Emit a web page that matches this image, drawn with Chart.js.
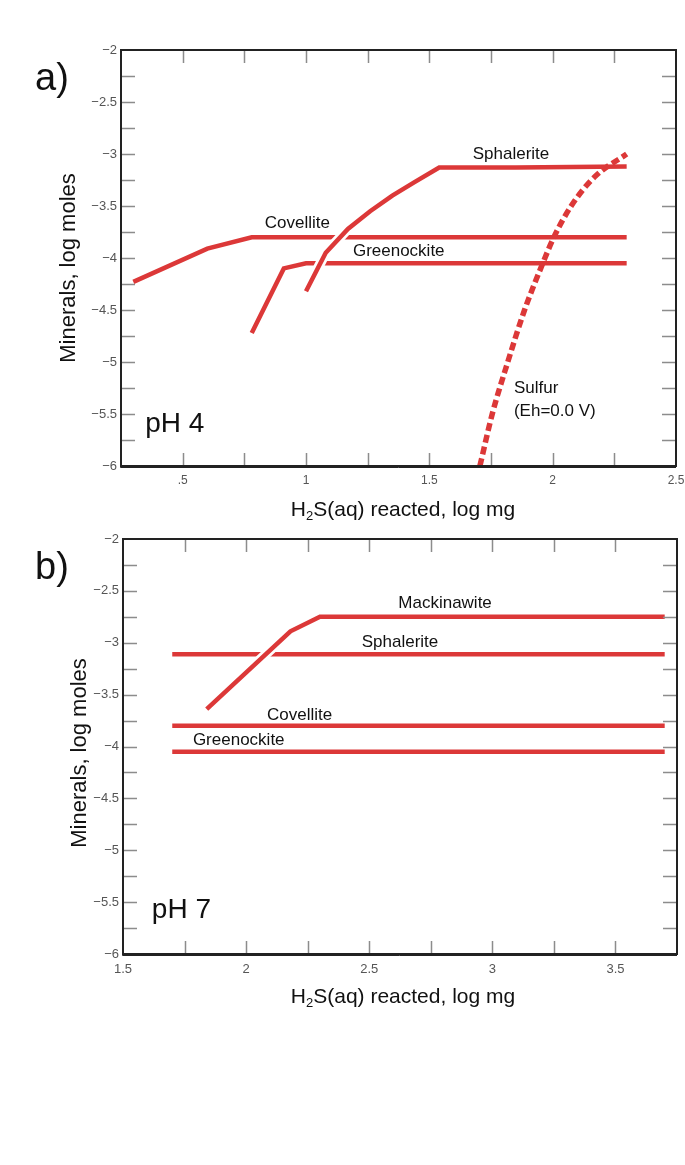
<!DOCTYPE html>
<html>
<head>
<meta charset="utf-8">
<script src="https://cdn.jsdelivr.net/npm/chart.js@4.4.0/dist/chart.umd.min.js"></script>
<style>
  body { margin: 0; background: #fff; }
  #wrap { position: relative; width: 685px; height: 1165px; background: #fff; }
  canvas { position: absolute; left: 0; }
</style>
</head>
<body>
<div id="wrap">
  <canvas id="chartA" width="685" height="530" style="top:0"></canvas>
  <canvas id="chartB" width="685" height="520" style="top:530px"></canvas>
</div>
<script>
// ---- panel a) pH 4 ----
const covelliteA_x   = [0.30, 0.60, 0.78, 2.30];
const covelliteA_y   = [-4.23, -3.91, -3.80, -3.80];
const greenockiteA_x = [0.78, 0.91, 1.00, 2.30];
const greenockiteA_y = [-4.72, -4.10, -4.05, -4.05];
const sphaleriteA_x  = [1.00, 1.08, 1.17, 1.26, 1.35, 1.44, 1.54, 1.85, 2.30];
const sphaleriteA_y  = [-4.32, -3.95, -3.72, -3.55, -3.40, -3.27, -3.13, -3.13, -3.12];
const sulfurA_x      = [1.705, 1.755, 1.818, 1.886, 1.96, 2.005, 2.075, 2.17, 2.30];
const sulfurA_y      = [-6.00, -5.50, -5.00, -4.50, -4.05, -3.80, -3.50, -3.22, -3.00];

// ---- panel b) pH 7 ----
const mackinawiteB_x = [1.84, 2.18, 2.30, 3.70];
const mackinawiteB_y = [-3.64, -2.89, -2.75, -2.75];
const sphaleriteB_x  = [1.70, 3.70];
const sphaleriteB_y  = [-3.11, -3.11];
const covelliteB_x   = [1.70, 3.70];
const covelliteB_y   = [-3.80, -3.80];
const greenockiteB_x = [1.70, 3.70];
const greenockiteB_y = [-4.05, -4.05];

// axis ranges / tick steps
const xRangeA = [0.25, 2.5];
const xRangeB = [1.5, 3.75];
const yRange  = [-6, -2];
const tickStep = 0.25;

const RED = '#dc3838';
Chart.defaults.font.family = '"Liberation Sans", Arial, sans-serif';

function pts(xs, ys) {
  return xs.map((v, i) => ({ x: v, y: ys[i] }));
}

function series(xs, ys, extra) {
  return Object.assign({
    data: pts(xs, ys),
    borderColor: RED,
    borderWidth: 4.5,
    borderCapStyle: 'butt',
    pointRadius: 0,
    fill: false,
    order: 3
  }, extra || {});
}

function isHalf(v) {
  return Math.abs(v * 2 - Math.round(v * 2)) < 1e-9;
}

function yLabel(v) {
  return isHalf(v) ? String(v).replace('-', '\u2212') : '';
}

// draws inward ticks, frame, curve labels, axis titles
const decor = {
  id: 'decor',
  afterDraw(chart, args, o) {
    const { ctx, chartArea: a } = chart;
    const x = chart.scales.x, y = chart.scales.y;
    ctx.save();

    ctx.strokeStyle = '#8c8c8c';
    ctx.lineWidth = 1.5;
    ctx.beginPath();
    x.ticks.forEach(t => {
      if (t.value <= x.min || t.value >= x.max) return;
      const px = Math.round(x.getPixelForValue(t.value)) + 0.5;
      ctx.moveTo(px, a.bottom); ctx.lineTo(px, a.bottom - 13);
      ctx.moveTo(px, a.top); ctx.lineTo(px, a.top + 13);
    });
    y.ticks.forEach(t => {
      if (t.value <= y.min || t.value >= y.max) return;
      const py = Math.round(y.getPixelForValue(t.value)) + 0.5;
      ctx.moveTo(a.left, py); ctx.lineTo(a.left + 14, py);
      ctx.moveTo(a.right, py); ctx.lineTo(a.right - 14, py);
    });
    ctx.stroke();

    // frame
    ctx.strokeStyle = '#222';
    ctx.lineWidth = 2;
    ctx.strokeRect(a.left, a.top, a.right - a.left, a.bottom - a.top);
    ctx.lineWidth = 1;
    ctx.beginPath();
    ctx.moveTo(a.left - 0.5, a.top); ctx.lineTo(a.left - 0.5, a.bottom + 1.5);
    ctx.lineTo(a.right, a.bottom + 1.5);
    ctx.stroke();

    // curve labels
    ctx.fillStyle = '#111';
    ctx.textBaseline = 'middle';
    o.labels.forEach(l => {
      ctx.font = (l.size || 17) + 'px "Liberation Sans", Arial, sans-serif';
      ctx.textAlign = l.align || 'center';
      ctx.fillText(l.text, x.getPixelForValue(l.x), y.getPixelForValue(l.y));
    });

    // panel letter
    ctx.font = '38px "Liberation Sans", Arial, sans-serif';
    ctx.textAlign = 'left';
    ctx.fillText(o.letter, 35, o.letterY);

    // x title with subscript
    const big = '21px "Liberation Sans", Arial, sans-serif';
    const small = '13px "Liberation Sans", Arial, sans-serif';
    ctx.font = big;
    const w1 = ctx.measureText('H').width;
    const w3 = ctx.measureText('S(aq) reacted, log mg').width;
    ctx.font = small;
    const w2 = ctx.measureText('2').width;
    const sx = o.xTitleX - (w1 + w2 + w3) / 2;
    ctx.font = big;
    ctx.fillText('H', sx, o.xTitleY);
    ctx.font = small;
    ctx.fillText('2', sx + w1, o.xTitleY + 6);
    ctx.font = big;
    ctx.fillText('S(aq) reacted, log mg', sx + w1 + w2, o.xTitleY);

    // y title
    ctx.translate(o.yTitleX, o.yTitleY);
    ctx.rotate(-Math.PI / 2);
    ctx.textAlign = 'center';
    ctx.font = '22px "Liberation Sans", Arial, sans-serif';
    ctx.fillText('Minerals, log moles', 0, 0);

    ctx.restore();
  }
};

function makeOptions(xRange, xLabel, xFont, xPad, padTop, padRight, axisHeight, decorOpts) {
  return {
    responsive: false,
    animation: false,
    events: [],
    layout: { padding: { left: 0, top: padTop, right: padRight, bottom: 0 } },
    plugins: { legend: { display: false }, tooltip: { enabled: false }, decor: decorOpts },
    scales: {
      x: {
        type: 'linear', min: xRange[0], max: xRange[1],
        grid: { display: false, drawTicks: false },
        border: { display: false },
        ticks: { stepSize: tickStep, autoSkip: false, maxRotation: 0, padding: xPad,
                 color: '#555', font: { size: xFont }, callback: xLabel },
        afterFit(s) { s.height = axisHeight; s.paddingLeft = 0; s.paddingRight = 0; }
      },
      y: {
        type: 'linear', min: yRange[0], max: yRange[1],
        grid: { display: false, drawTicks: false },
        border: { display: false },
        ticks: { stepSize: tickStep, autoSkip: false, padding: 4,
                 color: '#555', font: { size: 13 }, callback: yLabel },
        afterFit(s) { s.width = decorOpts.left; s.paddingTop = 0; s.paddingBottom = 0; }
      }
    }
  };
}

new Chart(document.getElementById('chartA'), {
  type: 'line',
  data: {
    datasets: [
      series(sulfurA_x, sulfurA_y, { borderDash: [8, 4], borderWidth: 5.5, order: 0,
                                     cubicInterpolationMode: 'monotone' }),
      series(sphaleriteA_x, sphaleriteA_y, { order: 1 }),
      series(sphaleriteA_x, sphaleriteA_y, { borderColor: '#fff', borderWidth: 10, order: 2 }),
      series(covelliteA_x, covelliteA_y),
      series(greenockiteA_x, greenockiteA_y)
    ]
  },
  options: makeOptions(xRangeA,
    v => isHalf(v) ? (v === 0.5 ? '.5' : String(v)) : '',
    12, 7, 50, 9, 64,
    {
      left: 121, letter: 'a)', letterY: 80,
      xTitleX: 403, xTitleY: 510, yTitleX: 69, yTitleY: 268,
      labels: [
        { text: 'Covellite', x: 0.965, y: -3.67 },
        { text: 'Greenockite', x: 1.376, y: -3.94 },
        { text: 'Sphalerite', x: 1.831, y: -3.0 },
        { text: 'Sulfur', x: 1.843, y: -5.25, align: 'left' },
        { text: '(Eh=0.0 V)', x: 1.843, y: -5.47, align: 'left' },
        { text: 'pH 4', x: 0.348, y: -5.6, align: 'left', size: 28 }
      ]
    }),
  plugins: [decor]
});

new Chart(document.getElementById('chartB'), {
  type: 'line',
  data: {
    datasets: [
      series(mackinawiteB_x, mackinawiteB_y, { order: 1 }),
      series(mackinawiteB_x, mackinawiteB_y, { borderColor: '#fff', borderWidth: 10, order: 2 }),
      series(sphaleriteB_x, sphaleriteB_y),
      series(covelliteB_x, covelliteB_y),
      series(greenockiteB_x, greenockiteB_y)
    ]
  },
  options: makeOptions(xRangeB,
    v => isHalf(v) ? String(v) : '',
    13, 8, 9, 8, 96,
    {
      left: 123, letter: 'b)', letterY: 39,
      xTitleX: 403, xTitleY: 467, yTitleX: 80, yTitleY: 223,
      labels: [
        { text: 'Mackinawite', x: 2.808, y: -2.617 },
        { text: 'Sphalerite', x: 2.625, y: -2.998 },
        { text: 'Covellite', x: 2.217, y: -3.696 },
        { text: 'Greenockite', x: 1.97, y: -3.937 },
        { text: 'pH 7', x: 1.617, y: -5.58, align: 'left', size: 28 }
      ]
    }),
  plugins: [decor]
});
</script>
</body>
</html>
